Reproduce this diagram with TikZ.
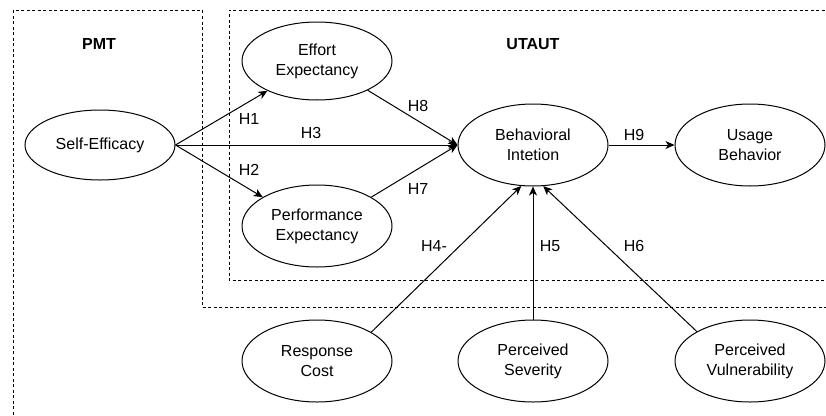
\documentclass[tikz,border=0pt]{standalone}
\usepackage{fontspec}
\setmainfont{Liberation Sans}
\usetikzlibrary{shapes.geometric,arrows.meta}
\begin{document}
\begin{tikzpicture}[x=1pt,y=-1pt,
  ell/.style={ellipse, draw, line width=1pt, minimum width=150pt, minimum height=80pt, inner sep=0pt, align=center, font=\fontsize{16}{20}\selectfont},
  arr/.style={-{Stealth[length=9pt,width=8pt,inset=2.5pt]}, line width=1pt},
  boxline/.style={dash pattern=on 3pt off 2.5pt, line width=0.9pt},
  lbl/.style={font=\fontsize{16}{19}\selectfont, inner sep=0pt},
  ttl/.style={font=\fontsize{16}{19}\selectfont\bfseries, inner sep=0pt}]
\useasboundingbox (0,0) rectangle (826,415);
\clip (0,0) rectangle (826,415);
% group frames
\draw[boxline] (13,420) -- (13,10) -- (202,10) -- (202,307) -- (830,307);
\draw[boxline] (830,10) -- (229,10) -- (229,280) -- (830,280);
\node[ttl] (pmt) at (99,44) {PMT};
\node[ttl] (utaut) at (533,44) {UTAUT};
% constructs
\node[ell, minimum height=70pt] (se) at (100,145) {Self-Efficacy};
\node[ell, minimum height=78pt] (ee) at (317,61) {Effort\\Expectancy};
\node[ell, minimum height=82pt] (pe) at (317,226) {Performance\\Expectancy};
\node[ell, minimum height=82pt] (bi) at (533,145) {Behavioral\\Intetion};
\node[ell, minimum height=82pt] (ub) at (750,145) {Usage\\Behavior};
\node[ell, minimum height=82pt] (rc) at (317,361) {Response\\Cost};
\node[ell, minimum height=82pt] (ps) at (533,361) {Perceived\\Severity};
\node[ell, minimum height=82pt] (pv) at (750,361) {Perceived\\Vulnerability};
% connectors
\draw[arr] (se.east) -- (ee.211);
\draw[arr] (se.east) -- (pe.152);
\draw[arr] (se.east) -- (bi.west);
\draw[arr] (ee.-30) -- (bi.west);
\draw[arr] (pe.28) -- (bi.west);
\draw[arr] (bi.east) -- (ub.west);
\draw[arr] (rc.28) -- (bi.-106);
\draw[arr] (ps.north) -- (bi.south);
\draw[arr] (pv.151) -- (bi.-76);
% labels
\node[lbl] (h1) at (249,119) {H1};
\node[lbl] (h2) at (249,170) {H2};
\node[lbl] (h3) at (311,133) {H3};
\node[lbl] (h8) at (418,106) {H8};
\node[lbl] (h7) at (418,189) {H7};
\node[lbl] (h9) at (634,135) {H9};
\node[lbl] (h4) at (434,246) {H4-};
\node[lbl] (h5) at (550,246) {H5};
\node[lbl] (h6) at (634,246) {H6};
\end{tikzpicture}
\end{document}
